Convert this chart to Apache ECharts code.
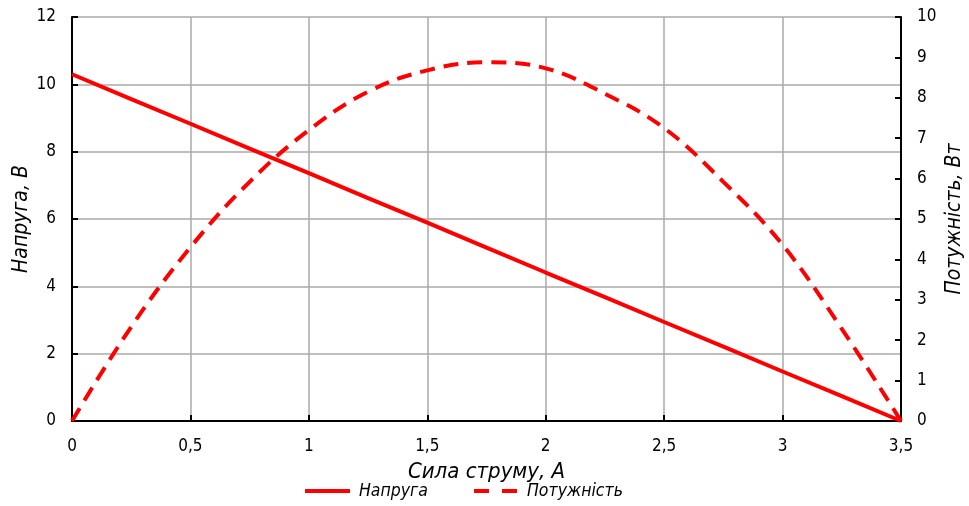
<!DOCTYPE html>
<html>
<head>
<meta charset="utf-8">
<script src="https://cdn.jsdelivr.net/npm/echarts@6/dist/echarts.min.js"></script>
<style>
html,body{margin:0;padding:0;background:#fff;}
#c{width:969px;height:506px;}
</style>
</head>
<body>
<div id="c"></div>
<script>
var current = [0, 0.25, 0.5, 0.75, 1, 1.25, 1.5, 1.75, 2, 2.25, 2.5, 2.75, 3, 3.25, 3.5];
var voltage = [10.3, 9.56, 8.83, 8.09, 7.36, 6.62, 5.89, 5.15, 4.41, 3.68, 2.94, 2.21, 1.47, 0.74, 0];
var power = [0, 2.33, 4.3, 5.92, 7.2, 8.15, 8.68, 8.88, 8.73, 8.1, 7.25, 5.92, 4.36, 2.28, 0];
var leftTicks = [0, 2, 4, 6, 8, 10, 12];
var rightTicks = [0, 1, 2, 3, 4, 5, 6, 7, 8, 9, 10];

var FONT = '"Liberation Sans Narrow", "DejaVu Sans Condensed", "DejaVu Sans", sans-serif';
function pairs(xs, ys){ return xs.map(function(x,i){ return [x, ys[i]]; }); }
function fmt(v){ return String(v).replace('.', ','); }

var chart = echarts.init(document.getElementById('c'));
chart.setOption({
  animation: false,
  backgroundColor: '#fff',
  grid: {left: 72, right: 68, top: 17, bottom: 85, containLabel: false, outerBoundsMode: 'none'},
  legend: {
    bottom: 1, left: 300, itemWidth: 45, itemHeight: 4, itemGap: 46,
    textStyle: {fontFamily: FONT, fontStyle: 'italic', fontSize: 17.5, color: '#000', padding: [0,0,0,4]},
    data: [
      {name: 'Напруга', icon: 'path://M0,0 L45,0 L45,4 L0,4 Z'},
      {name: 'Потужність', icon: 'path://M0,0 L15,0 L15,4 L0,4 Z M28,0 L43,0 L43,4 L28,4 Z'}
    ]
  },
  xAxis: {
    type: 'value', min: 0, max: 3.5, interval: 0.5,
    name: 'Сила струму, А', nameLocation: 'middle', nameGap: 40,
    nameTextStyle: {fontFamily: FONT, fontStyle: 'italic', fontSize: 22, color: '#000'},
    axisLine: {lineStyle: {color: '#000', width: 2}},
    axisTick: {inside: true, length: 6, lineStyle: {color: '#000', width: 2}},
    axisLabel: {fontFamily: FONT, fontSize: 17, color: '#000', margin: 17, formatter: fmt},
    splitLine: {show: true, lineStyle: {color: '#aaa', width: 1.5}}
  },
  yAxis: [{
    type: 'value', min: 0, max: 12, interval: 2, position: 'left',
    name: 'Напруга, В', nameLocation: 'middle', nameGap: 40, nameRotate: 90, nameMoveOverlap: false,
    nameTextStyle: {fontFamily: FONT, fontStyle: 'italic', fontSize: 21, color: '#000'},
    axisLine: {show: true, lineStyle: {color: '#000', width: 2}},
    axisTick: {show: true, inside: true, length: 6, lineStyle: {color: '#000', width: 2}},
    axisLabel: {fontFamily: FONT, fontSize: 17, color: '#000', margin: 16},
    splitLine: {show: true, lineStyle: {color: '#aaa', width: 1.5}}
  }, {
    type: 'value', min: 0, max: 10, interval: 1, position: 'right',
    name: 'Потужність, Вт', nameLocation: 'middle', nameGap: 43, nameRotate: 90, nameMoveOverlap: false,
    nameTextStyle: {fontFamily: FONT, fontStyle: 'italic', fontSize: 21, color: '#000'},
    axisLine: {show: true, lineStyle: {color: '#000', width: 2}},
    axisTick: {show: true, inside: true, length: 6, lineStyle: {color: '#000', width: 2}},
    axisLabel: {fontFamily: FONT, fontSize: 17, color: '#000', margin: 16},
    splitLine: {show: false}
  }],
  series: [{
    name: 'Напруга', type: 'line', yAxisIndex: 0,
    data: pairs(current, voltage),
    showSymbol: false, symbol: 'none',
    itemStyle: {color: '#ff0000'},
    lineStyle: {color: '#ff0000', width: 4}
  }, {
    name: 'Потужність', type: 'line', yAxisIndex: 1,
    data: pairs(current, power),
    smooth: 0.4, showSymbol: false, symbol: 'none',
    itemStyle: {color: '#ff0000'},
    lineStyle: {color: '#ff0000', width: 4, type: [15, 9], cap: 'butt'}
  }]
});
</script>
</body>
</html>
